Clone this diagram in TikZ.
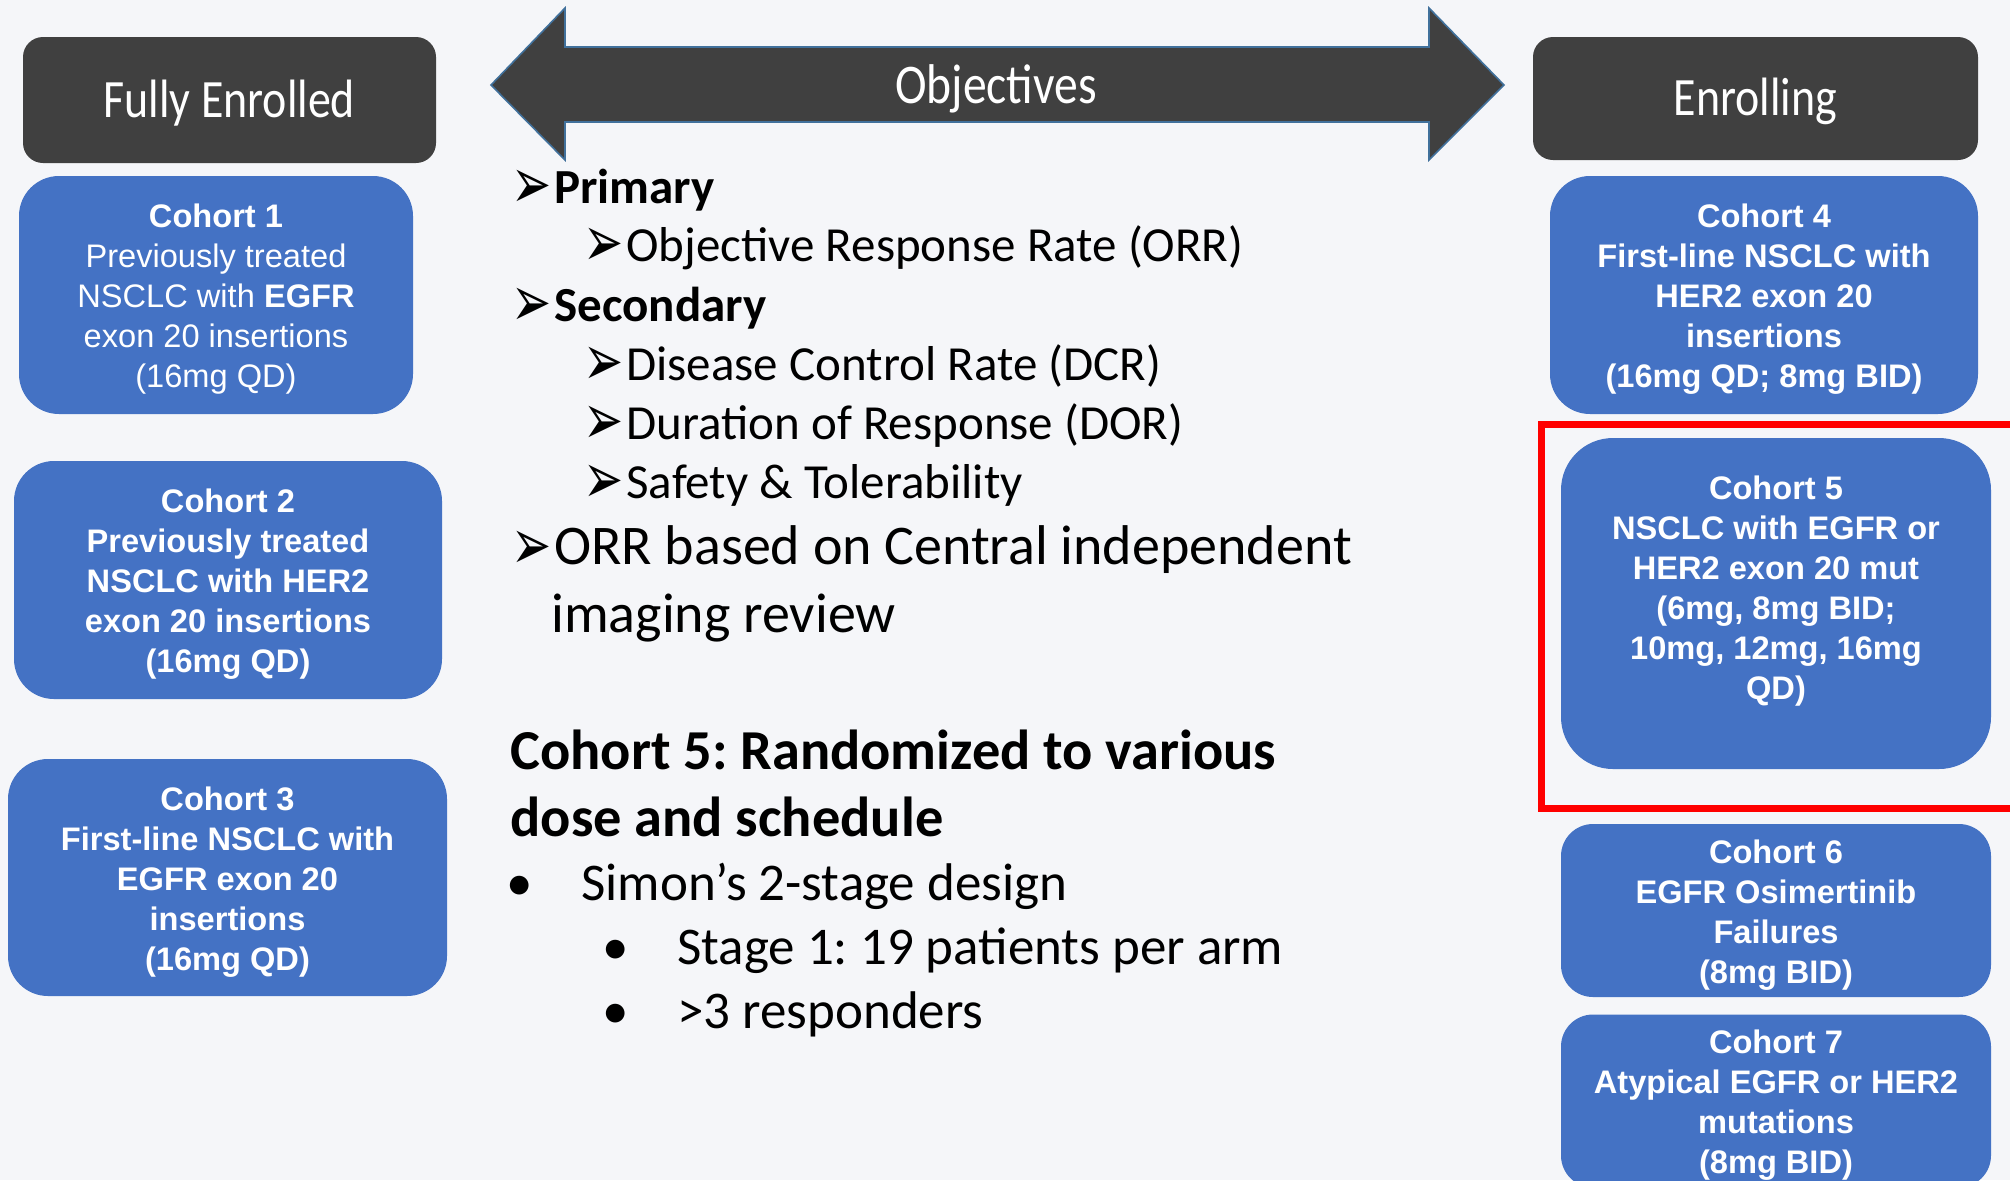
\documentclass[tikz,border=0pt]{standalone}
\usepackage{fontspec}
\setmainfont{Carlito}
\newfontfamily\arialfont{Liberation Sans}
\newfontfamily\dingfont{DejaVu Sans}
\newfontfamily\narrowfont[FakeStretch=0.85]{Carlito}
\frenchspacing

\definecolor{hdgray}{HTML}{404040}
\definecolor{cohortblue}{HTML}{4472C4}
\definecolor{arrowedge}{HTML}{41719C}
\definecolor{slidebg}{HTML}{F5F6F9}

\newcommand{\tipbullet}{\makebox[20.5pt][l]{\hspace*{-1pt}\raisebox{-2.5pt}{\scalebox{1}[1.5]{\dingfont\fontsize{24}{24}\selectfont ➢}}}}
\newcommand{\dotbullet}{\makebox[37.5pt][l]{\textbullet}}
\newcommand{\cstrut}{\rule{0pt}{16.3pt}}

\begin{document}
\begin{tikzpicture}[%
      x=0.5pt, y=-0.5pt,
      hdbox/.style={fill=hdgray, rounded corners=10pt, text=white, inner sep=0pt,
        text height=17.3pt, text depth=0pt, font=\narrowfont\fontsize{27}{30}\selectfont},
      cohort/.style={fill=cohortblue, rounded corners=20pt, text=white, inner sep=0pt,
        align=center, font=\arialfont\fontsize{16.3}{20}\selectfont\bfseries},
      objtext/.style={anchor=base west, inner sep=0pt, font=\fontsize{24.5}{29}\selectfont},
      objhead/.style={objtext, font=\fontsize{24.5}{29}\selectfont\bfseries},
      ]
      \useasboundingbox (0,0) rectangle (2010,1180);
      \clip (0,0) rectangle (2010,1180);
      \fill [slidebg] (0,0) rectangle (2010,1180);

      % double arrow
      \draw [fill=hdgray, draw=arrowedge, line width=0.8pt]
        (491,85) -- (565,8) -- (565,47) -- (1429,47) -- (1429,8) -- (1504,85)
        -- (1429,160) -- (1429,122) -- (565,122) -- (565,160) -- cycle;
      \node [text=white, inner sep=0pt, text height=17.9pt, text depth=0pt,
        font=\narrowfont\fontsize{28}{30}\selectfont] (obj) at (996,86) {Objectives};

      % left column
      \node [hdbox, minimum width=206.5pt, minimum height=63pt] (full) at (229.5,100) {Fully Enrolled};
      \node [cohort, minimum width=197pt, minimum height=119pt, font=\arialfont\fontsize{16.3}{20}\selectfont] (c1) at (216,295)
        {\cstrut\textbf{Cohort 1}\\Previously treated\\NSCLC with \textbf{EGFR}\\exon 20 insertions\\(16mg QD)};
      \node [cohort, minimum width=214pt, minimum height=119pt] (c2) at (228,580)
        {\cstrut Cohort 2\\Previously treated\\NSCLC with HER2\\exon 20 insertions\\(16mg QD)};
      \node [cohort, minimum width=219.5pt, minimum height=118.5pt] (c3) at (227.5,877.5)
        {\cstrut Cohort 3\\First-line NSCLC with\\EGFR exon 20\\insertions\\(16mg QD)};

      % right column
      \node [hdbox, minimum width=222.5pt, minimum height=61.5pt] (enr) at (1755.5,98.5) {Enrolling};
      \node [cohort, minimum width=214pt, minimum height=119pt] (c4) at (1764,295)
        {\cstrut Cohort 4\\First-line NSCLC with\\HER2 exon 20\\insertions\\(16mg QD; 8mg BID)};
      \draw [red, line width=3.5pt] (1541,424) rectangle (2050,808);
      \node [cohort, rounded corners=26pt, minimum width=215pt, minimum height=165.5pt] (c5) at (1776,603.5)
        {\cstrut Cohort 5\\NSCLC with EGFR or\\HER2 exon 20 mut\\(6mg, 8mg BID;\\10mg, 12mg, 16mg\\QD)\\~};
      \node [cohort, rounded corners=16pt, minimum width=215pt, minimum height=86.5pt] (c6) at (1776,910.5)
        {\cstrut Cohort 6\\EGFR Osimertinib\\Failures\\(8mg BID)};
      \node [cohort, rounded corners=16pt, minimum width=215pt, minimum height=86.5pt] (c7) at (1776,1101)
        {\cstrut Cohort 7\\Atypical EGFR or HER2\\mutations\\(8mg BID)};

      % objectives text
      \node [objhead] (prim) at (513,203) {\tipbullet Primary};
      \node [objtext] (orr) at (585,261) {\tipbullet Objective Response Rate (ORR)};
      \node [objhead] (sec) at (513,321) {\tipbullet Secondary};
      \node [objtext] (dcr) at (585,380) {\tipbullet Disease Control Rate (DCR)};
      \node [objtext] (dor) at (585,439) {\tipbullet Duration of Response (DOR)};
      \node [objtext] (safe) at (585,498) {\tipbullet Safety \& Tolerability};
      \node [objtext, font=\fontsize{28}{34}\selectfont] (cir) at (513,564) {\tipbullet ORR based on Central independent};
      \node [objtext, font=\fontsize{28}{34}\selectfont] (cir2) at (551,632) {imaging review};

      % cohort 5 design
      \node [objtext, font=\fontsize{28.2}{34}\selectfont\bfseries] (rand) at (510,769) {Cohort 5: Randomized to various};
      \node [objtext, font=\fontsize{28.2}{34}\selectfont\bfseries] (rand2) at (510,836) {dose and schedule};
      \node [objtext, font=\fontsize{26.5}{32}\selectfont] (simon) at (506,900) {\dotbullet Simon’s 2-stage design};
      \node [objtext, font=\fontsize{26.5}{32}\selectfont] (stage) at (602,964) {\dotbullet Stage 1: 19 patients per arm};
      \node [objtext, font=\fontsize{26.5}{32}\selectfont] (resp) at (602,1028) {\dotbullet >3 responders};
\end{tikzpicture}
\end{document}
